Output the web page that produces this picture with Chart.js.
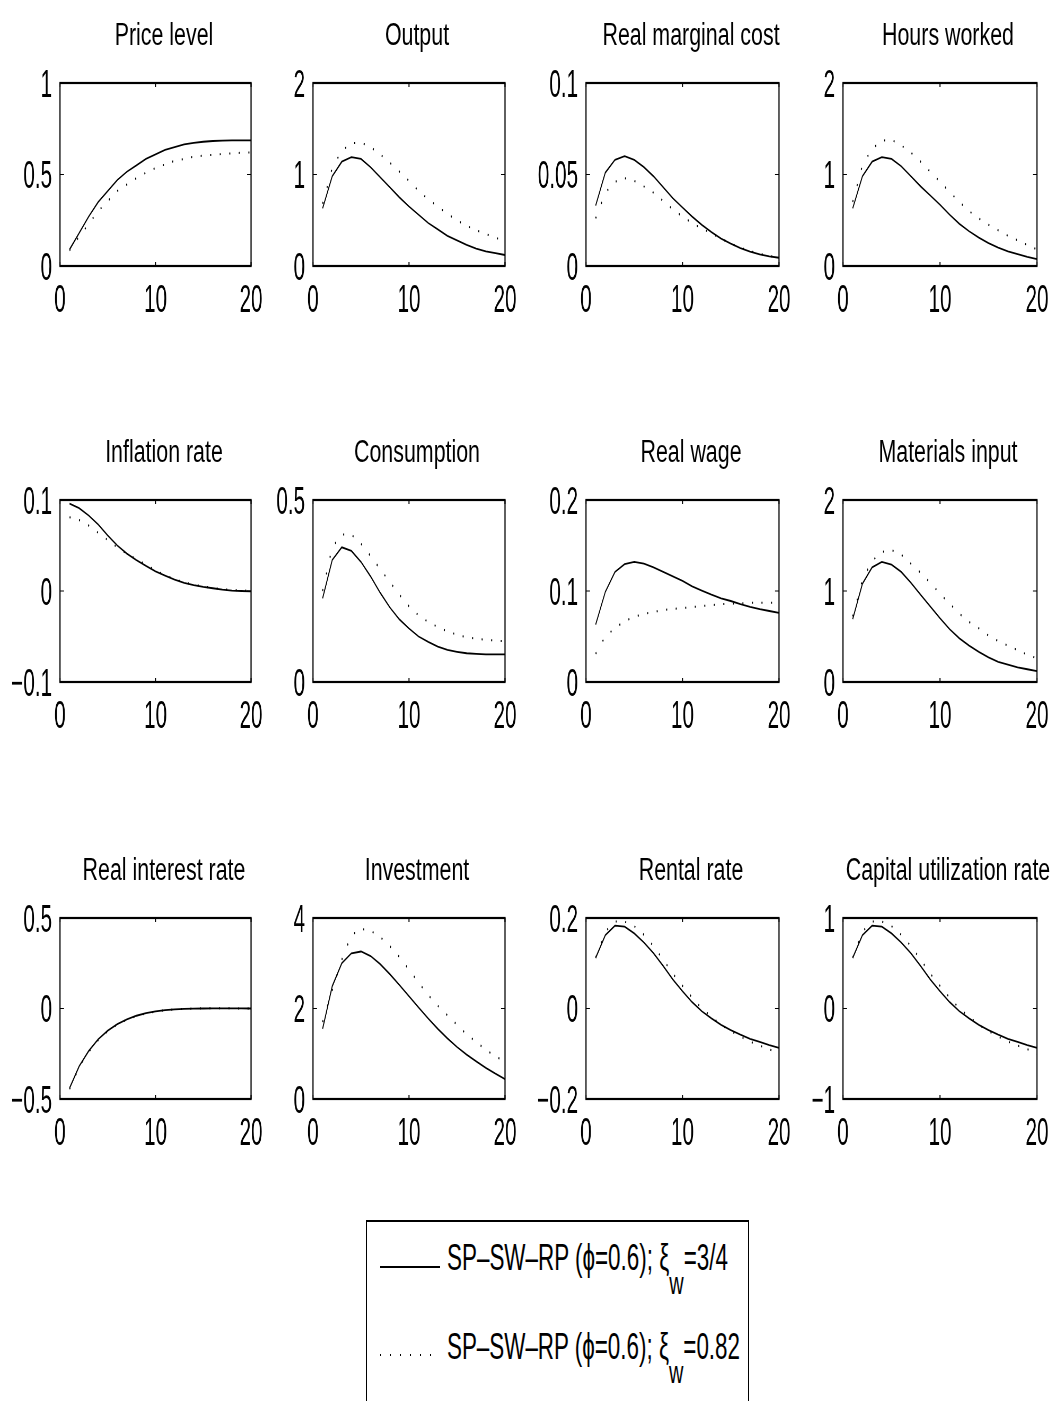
<!DOCTYPE html>
<html>
<head>
<meta charset="utf-8">
<script src="https://cdn.jsdelivr.net/npm/chart.js@4.4.0/dist/chart.umd.min.js"></script>
<style>
  html, body { margin: 0; padding: 0; background: #fff; overflow: hidden; }
  body { width: 1064px; height: 1401px; position: relative; color: #000;
         font-family: 'Liberation Sans', Arial, Helvetica, sans-serif; }
  .panel { position: absolute; }
  .inner { position: absolute; left: 0; top: 0; transform-origin: 0 0; }
  .title { position: absolute; width: 400px; text-align: center; font-size: 31px;
           line-height: 30px; white-space: nowrap; transform: scaleX(0.69); transform-origin: 50% 50%; }
  #legend { position: absolute; left: 366px; top: 1220px; width: 383px; height: 260px;
            box-sizing: border-box; border-top: 2px solid #000; border-left: 1px solid #000;
            border-right: 1px solid #000; }
  .sample { position: absolute; left: 13px; width: 60px; height: 1.6px; }
  .ltext { position: absolute; left: 80px; font-size: 36px; line-height: 35px;
           white-space: nowrap; transform-origin: 0 0; display: inline-block; }
  .ltext sub { font-size: 32px; vertical-align: -24px; line-height: 0; }
</style>
</head>
<body>
<div id="legend"></div>
<script>
// horizon (quarters) and panel setup
const periods = [1, 2, 3, 4, 5, 6, 7, 8, 9, 10, 11, 12, 13, 14, 15, 16, 17, 18, 19, 20];
const titles = ['Price level', 'Output', 'Real marginal cost', 'Hours worked',
                'Inflation rate', 'Consumption', 'Real wage', 'Materials input',
                'Real interest rate', 'Investment', 'Rental rate', 'Capital utilization rate'];
const yMin  = [0, 0, 0,    0, -0.1, 0,   0,   0, -0.5, 0, -0.2, -1];
const yMax  = [1, 2, 0.1,  2,  0.1, 0.5, 0.2, 2,  0.5, 4,  0.2,  1];
const yStep = [0.5, 1, 0.05, 1, 0.1, 0.5, 0.1, 1, 0.5, 2, 0.2, 1];
const xTicks = [0, 10, 20];

// solid: xi_w = 3/4, dotted: xi_w = 0.82
const priceSolid  = [0.09, 0.18, 0.27, 0.35, 0.41, 0.47, 0.515, 0.55, 0.585, 0.61, 0.635, 0.65, 0.665, 0.673, 0.679, 0.683, 0.685, 0.686, 0.686, 0.686];
const priceDotted = [0.085, 0.16, 0.23, 0.30, 0.355, 0.41, 0.445, 0.48, 0.51, 0.535, 0.555, 0.575, 0.585, 0.597, 0.603, 0.608, 0.612, 0.616, 0.619, 0.62];
const outputSolid  = [0.63, 0.98, 1.14, 1.19, 1.17, 1.08, 0.97, 0.86, 0.75, 0.65, 0.56, 0.47, 0.40, 0.33, 0.28, 0.23, 0.19, 0.16, 0.14, 0.12];
const outputDotted = [0.68, 1.07, 1.26, 1.34, 1.35, 1.30, 1.22, 1.13, 1.03, 0.93, 0.82, 0.73, 0.65, 0.57, 0.50, 0.44, 0.39, 0.35, 0.31, 0.27];
const mcSolid  = [0.033, 0.051, 0.058, 0.060, 0.058, 0.054, 0.049, 0.043, 0.037, 0.032, 0.027, 0.0225, 0.0185, 0.015, 0.0122, 0.0098, 0.0079, 0.0064, 0.0053, 0.0045];
const mcDotted = [0.026, 0.040, 0.046, 0.048, 0.0465, 0.0435, 0.040, 0.0355, 0.031, 0.027, 0.0235, 0.0205, 0.0178, 0.015, 0.0123, 0.010, 0.0081, 0.0066, 0.0055, 0.0046];
const hoursSolid  = [0.63, 0.98, 1.14, 1.19, 1.17, 1.09, 0.98, 0.87, 0.77, 0.67, 0.56, 0.46, 0.38, 0.31, 0.25, 0.20, 0.16, 0.13, 0.10, 0.075];
const hoursDotted = [0.70, 1.10, 1.28, 1.37, 1.38, 1.32, 1.24, 1.14, 1.03, 0.92, 0.81, 0.70, 0.60, 0.52, 0.45, 0.39, 0.33, 0.28, 0.23, 0.18];
const inflSolid  = [0.096, 0.091, 0.083, 0.073, 0.061, 0.050, 0.041, 0.034, 0.0275, 0.0215, 0.017, 0.0125, 0.009, 0.0065, 0.0045, 0.003, 0.0015, 0.0005, 0, -0.0005];
const inflDotted = [0.081, 0.078, 0.072, 0.064, 0.056, 0.048, 0.041, 0.035, 0.029, 0.0225, 0.0175, 0.013, 0.0095, 0.007, 0.005, 0.0033, 0.002, 0.0012, 0.0006, 0.0002];
const consSolid  = [0.23, 0.335, 0.37, 0.36, 0.33, 0.29, 0.245, 0.205, 0.172, 0.147, 0.125, 0.11, 0.097, 0.088, 0.083, 0.079, 0.077, 0.076, 0.076, 0.076];
const consDotted = [0.25, 0.37, 0.405, 0.405, 0.38, 0.346, 0.31, 0.275, 0.24, 0.208, 0.183, 0.165, 0.151, 0.139, 0.13, 0.123, 0.119, 0.116, 0.114, 0.112];
const wageSolid  = [0.063, 0.099, 0.121, 0.1295, 0.132, 0.130, 0.126, 0.121, 0.116, 0.111, 0.105, 0.1005, 0.096, 0.092, 0.089, 0.0855, 0.0825, 0.080, 0.078, 0.076];
const wageDotted = [0.031, 0.050, 0.059, 0.067, 0.0715, 0.075, 0.077, 0.079, 0.0803, 0.0812, 0.0823, 0.0835, 0.0845, 0.0855, 0.086, 0.0865, 0.087, 0.087, 0.087, 0.087];
const matSolid  = [0.69, 1.08, 1.26, 1.32, 1.29, 1.21, 1.09, 0.96, 0.83, 0.70, 0.58, 0.48, 0.40, 0.33, 0.27, 0.22, 0.19, 0.16, 0.14, 0.12];
const matDotted = [0.72, 1.12, 1.33, 1.43, 1.45, 1.40, 1.30, 1.20, 1.09, 0.97, 0.86, 0.75, 0.66, 0.59, 0.51, 0.45, 0.40, 0.35, 0.30, 0.26];
const rateSolid  = [-0.44, -0.32, -0.235, -0.17, -0.122, -0.086, -0.06, -0.04, -0.026, -0.016, -0.009, -0.005, -0.002, -0.001, 0, 0.001, 0.001, 0.001, 0.0005, 0];
const rateDotted = [-0.445, -0.325, -0.24, -0.175, -0.125, -0.088, -0.062, -0.042, -0.027, -0.017, -0.01, -0.005, -0.002, 0, 0.001, 0.001, 0.001, 0.001, 0.0005, 0];
const invSolid  = [1.55, 2.49, 3.0, 3.22, 3.26, 3.16, 2.98, 2.76, 2.52, 2.27, 2.02, 1.78, 1.55, 1.34, 1.15, 0.98, 0.83, 0.69, 0.56, 0.44];
const invDotted = [1.7, 2.4, 3.08, 3.62, 3.76, 3.72, 3.58, 3.38, 3.14, 2.86, 2.57, 2.3, 2.06, 1.85, 1.64, 1.43, 1.26, 1.09, 0.94, 0.83];
const rentSolid  = [0.112, 0.162, 0.183, 0.181, 0.166, 0.146, 0.122, 0.094, 0.064, 0.038, 0.014, -0.006, -0.022, -0.036, -0.048, -0.058, -0.067, -0.074, -0.081, -0.087];
const rentDotted = [0.112, 0.17, 0.192, 0.192, 0.182, 0.163, 0.1375, 0.108, 0.077, 0.05, 0.024, 0.0, -0.018, -0.036, -0.05, -0.062, -0.073, -0.082, -0.09, -0.1];
const utilSolid  = [0.56, 0.81, 0.915, 0.905, 0.83, 0.73, 0.61, 0.47, 0.32, 0.19, 0.07, -0.03, -0.11, -0.18, -0.24, -0.29, -0.335, -0.37, -0.405, -0.435];
const utilDotted = [0.56, 0.85, 0.96, 0.96, 0.91, 0.815, 0.69, 0.54, 0.385, 0.25, 0.12, 0.0, -0.09, -0.18, -0.25, -0.31, -0.365, -0.41, -0.45, -0.5];

const solidSeries  = [priceSolid, outputSolid, mcSolid, hoursSolid, inflSolid, consSolid,
                      wageSolid, matSolid, rateSolid, invSolid, rentSolid, utilSolid];
const dottedSeries = [priceDotted, outputDotted, mcDotted, hoursDotted, inflDotted, consDotted,
                      wageDotted, matDotted, rateDotted, invDotted, rentDotted, utilDotted];
const legendLabels = ['SP\u2013SW\u2013RP (\u03D5=0.6); \u03BE<sub>w</sub>=3/4',
                      'SP\u2013SW\u2013RP (\u03D5=0.6); \u03BE<sub>w</sub>=0.82'];

// the figure is squeezed sideways, so every canvas is drawn wide and scaled down
const S = 0.53;
const colLeft = [60, 313, 586, 843], colRight = [251, 505, 779, 1037];
const rowTop = [83, 500, 918], rowBottom = [266, 682, 1099];
const PAD_L = 60, PAD_R = 26, PAD_T = 44, PAD_B = 54;
const FONT = "'Liberation Sans', Arial, Helvetica, sans-serif";

Chart.defaults.color = '#000';
Chart.defaults.font.family = FONT;

const fmt = v => String(Math.round(v * 1000) / 1000).replace('-', '\u2212');

const boxPlugin = {
  id: 'box',
  afterDatasetsDraw(chart) {
    const { ctx, chartArea: a, scales: { x, y } } = chart;
    ctx.save();
    ctx.strokeStyle = '#000';
    ctx.lineWidth = 2;
    x.ticks.forEach(t => {
      const px = x.getPixelForValue(t.value);
      ctx.beginPath();
      ctx.moveTo(px, a.bottom); ctx.lineTo(px, a.bottom - 4);
      ctx.moveTo(px, a.top); ctx.lineTo(px, a.top + 4);
      ctx.stroke();
    });
    ctx.lineWidth = 1;
    y.ticks.forEach(t => {
      const py = y.getPixelForValue(t.value);
      ctx.beginPath();
      ctx.moveTo(a.left, py); ctx.lineTo(a.left + 4 / S, py);
      ctx.moveTo(a.right, py); ctx.lineTo(a.right - 4 / S, py);
      ctx.stroke();
    });
    ctx.lineWidth = 2.2;
    ctx.strokeRect(a.left, a.top, a.right - a.left, a.bottom - a.top);
    ctx.restore();
  }
};

titles.forEach((name, i) => {
  const r = Math.floor(i / 4), c = i % 4;
  const pw = colRight[c] - colLeft[c], ph = rowBottom[r] - rowTop[r];
  const w = pw + PAD_L + PAD_R, h = ph + PAD_T + PAD_B;

  const panel = document.createElement('div');
  panel.className = 'panel';
  panel.style.left = (colLeft[c] - PAD_L) + 'px';
  panel.style.top = (rowTop[r] - PAD_T) + 'px';
  panel.style.width = w + 'px';
  panel.style.height = h + 'px';
  const inner = document.createElement('div');
  inner.className = 'inner';
  inner.style.transform = `scaleX(${S})`;
  const cv = document.createElement('canvas');
  cv.width = Math.round(w / S);
  cv.height = h;
  inner.appendChild(cv);
  panel.appendChild(inner);
  document.body.appendChild(panel);

  const title = document.createElement('div');
  title.className = 'title';
  title.textContent = name;
  title.style.left = ((colLeft[c] + colRight[c]) / 2 + 8 - 200) + 'px';
  title.style.top = (rowTop[r] - 63) + 'px';
  document.body.appendChild(title);

  new Chart(cv, {
    type: 'line',
    data: {
      datasets: [
        { data: periods.map((p, k) => ({ x: p, y: dottedSeries[i][k] })),
          borderColor: '#000', borderWidth: 2, borderDash: [2, 16], pointRadius: 0, tension: 0 },
        { data: periods.map((p, k) => ({ x: p, y: solidSeries[i][k] })),
          borderColor: '#000', borderWidth: 1.8, pointRadius: 0, tension: 0 }
      ]
    },
    options: {
      responsive: false,
      animation: false,
      events: [],
      layout: { padding: { left: 0, top: PAD_T, bottom: 0, right: cv.width - (PAD_L + pw) / S } },
      plugins: { legend: { display: false }, tooltip: { enabled: false } },
      scales: {
        x: {
          type: 'linear', min: xTicks[0], max: xTicks[xTicks.length - 1],
          grid: { display: false, drawTicks: false }, border: { display: false },
          afterFit: s => { s.height = PAD_B; },
          afterBuildTicks: s => { s.ticks = xTicks.map(v => ({ value: v })); },
          ticks: { font: { size: 39 }, padding: 12, maxRotation: 0, autoSkip: false, callback: fmt }
        },
        y: {
          min: yMin[i], max: yMax[i],
          grid: { display: false, drawTicks: false }, border: { display: false },
          afterFit: s => { s.width = PAD_L / S; },
          ticks: { stepSize: yStep[i], font: { size: 39 }, padding: 8 / S, labelOffset: 3,
                   autoSkip: false, callback: fmt }
        }
      }
    },
    plugins: [boxPlugin]
  });
});

// legend
const legend = document.getElementById('legend');
const sampleTop = [44, 132], textTop = [18.4, 106.7], textWidth = [281, 293];
legendLabels.forEach((lab, k) => {
  const line = document.createElement('div');
  line.className = 'sample';
  line.style.top = sampleTop[k] + 'px';
  line.style.background = k === 0 ? '#000'
    : 'repeating-linear-gradient(to right, #000 0 1.4px, transparent 1.4px 10px)';
  legend.appendChild(line);
  const txt = document.createElement('span');
  txt.className = 'ltext';
  txt.style.top = textTop[k] + 'px';
  txt.innerHTML = lab;
  legend.appendChild(txt);
  txt.style.transform = `scaleX(${textWidth[k] / txt.offsetWidth})`;
});
</script>
</body>
</html>
